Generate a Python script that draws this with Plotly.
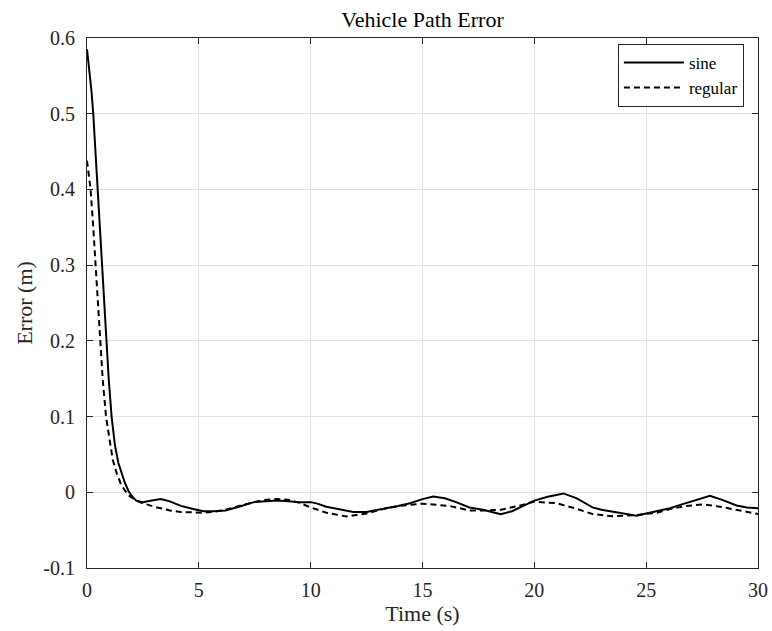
import plotly.graph_objects as go

# ---- data ----
sine_t = [0, 0.1, 0.2, 0.28, 0.38, 0.48, 0.56, 0.65, 0.75, 0.85, 0.97, 1.1, 1.25, 1.4,
          1.55, 1.7, 1.85, 2.0, 2.2, 2.5, 2.9, 3.3, 3.7, 4.2, 4.75, 5.2, 5.65, 6.2, 6.8,
          7.46, 8.0, 8.5, 9.0, 9.5, 10.0, 10.3, 10.7, 11.3, 11.9, 12.5, 13.25, 13.9, 14.44,
          15.0, 15.48, 16.0, 16.5, 17.1, 17.7, 18.1, 18.5, 19.0, 19.6, 20.0, 20.6, 21.3,
          21.9, 22.6, 23.0, 23.4, 24.0, 24.57, 25.0, 25.5, 26.06, 26.6, 27.2, 27.85, 28.4,
          29.04, 29.5, 30.0]
sine_err = [0.585, 0.56, 0.53, 0.50, 0.45, 0.40, 0.35, 0.30, 0.25, 0.20, 0.15, 0.10, 0.062,
            0.039, 0.025, 0.012, 0.002, -0.005, -0.011, -0.013, -0.011, -0.009, -0.012,
            -0.018, -0.022, -0.025, -0.025, -0.024, -0.019, -0.013, -0.012, -0.011, -0.012,
            -0.013, -0.013, -0.015, -0.019, -0.023, -0.026, -0.026, -0.022, -0.018, -0.0145,
            -0.009, -0.0057, -0.008, -0.013, -0.020, -0.023, -0.026, -0.029, -0.025, -0.016,
            -0.011, -0.006, -0.0015, -0.008, -0.020, -0.023, -0.025, -0.028, -0.031, -0.028,
            -0.025, -0.021, -0.016, -0.010, -0.0045, -0.010, -0.0175, -0.020, -0.021]

regular_t = [0, 0.08, 0.16, 0.28, 0.39, 0.48, 0.58, 0.7, 0.85, 1.0, 1.15, 1.33, 1.5, 1.7,
             1.9, 2.2, 2.5, 3.0, 3.71, 4.2, 4.75, 5.2, 5.65, 6.2, 6.8, 7.46, 8.0, 8.5, 9.0,
             9.5, 10.0, 10.7, 11.6, 12.5, 13.25, 14.0, 15.0, 16.2, 17.1, 17.7, 18.5, 19.3,
             20.0, 21.0, 21.8, 22.6, 23.5, 24.57, 25.5, 26.06, 26.8, 27.55, 28.3, 29.04, 30.0]
regular_err = [0.438, 0.42, 0.40, 0.35, 0.30, 0.25, 0.20, 0.15, 0.10, 0.068, 0.043, 0.025,
               0.012, 0.002, -0.005, -0.011, -0.0145, -0.019, -0.024, -0.026, -0.027, -0.027,
               -0.026, -0.023, -0.018, -0.013, -0.010, -0.009, -0.010, -0.014, -0.020, -0.027,
               -0.032, -0.028, -0.022, -0.018, -0.015, -0.018, -0.024, -0.024, -0.023, -0.018,
               -0.0123, -0.0145, -0.021, -0.0286, -0.0317, -0.030, -0.027, -0.022, -0.018,
               -0.016, -0.019, -0.023, -0.0286]

x_ticks = [0, 5, 10, 15, 20, 25, 30]
y_ticks = [0.6, 0.5, 0.4, 0.3, 0.2, 0.1, 0, -0.1]
y_tick_labels = ["0.6", "0.5", "0.4", "0.3", "0.2", "0.1", "0", "-0.1"]

FONT = "Liberation Serif"
AX = "#262626"
GRID = "#e1e1e1"

fig = go.Figure()
fig.add_trace(go.Scatter(x=sine_t, y=sine_err, mode="lines", name="sine",
                         line=dict(color="black", width=2)))
fig.add_trace(go.Scatter(x=regular_t, y=regular_err, mode="lines", name="regular",
                         line=dict(color="black", width=2, dash="6px,4px")))

axis_common = dict(showline=True, linecolor=AX, linewidth=1, mirror="ticks",
                   ticks="inside", ticklen=6, tickcolor=AX, showgrid=True,
                   gridcolor=GRID, gridwidth=1, zeroline=False,
                   tickfont=dict(family=FONT, size=20, color=AX))

fig.update_xaxes(range=[0, 30], tickvals=x_ticks, ticklabelstandoff=4,
                 title=dict(text="Time (s)", font=dict(family=FONT, size=22, color=AX),
                            standoff=0),
                 **axis_common)
fig.update_yaxes(range=[-0.1, 0.6], tickvals=y_ticks, ticktext=y_tick_labels,
                 ticklabelstandoff=7,
                 title=dict(text="Error (m)", font=dict(family=FONT, size=22, color=AX),
                            standoff=4),
                 **axis_common)

fig.update_layout(
    width=772, height=631,
    margin=dict(l=87, r=14, t=38, b=63, autoexpand=False),
    paper_bgcolor="white", plot_bgcolor="white",
    title=dict(text="Vehicle Path Error", x=0.5, xref="paper", xanchor="center",
               y=1 - 19 / 631, yanchor="middle",
               font=dict(family=FONT, size=22, color="black")),
    showlegend=True,
    legend=dict(x=0.979, y=0.989, xanchor="right", yanchor="top",
                bgcolor="white", bordercolor=AX, borderwidth=1, itemwidth=60,
                tracegroupgap=0,
                font=dict(family=FONT, size=17, color="black")),
)

fig.write_html("out.html")
